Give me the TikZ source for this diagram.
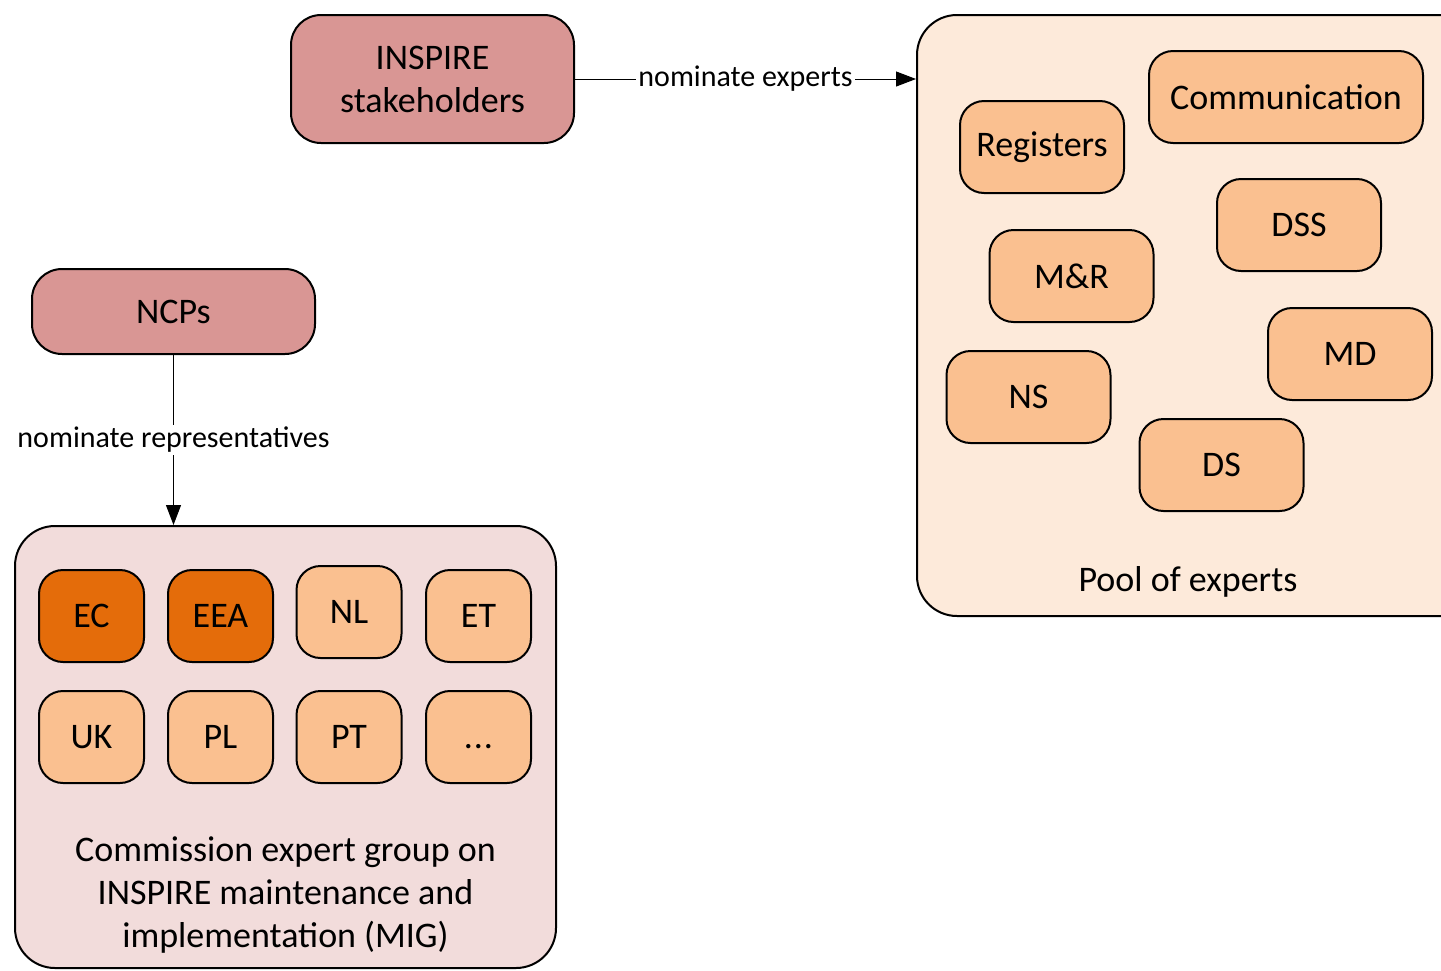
\documentclass[tikz,border=0pt]{standalone}
\usepackage{fontspec}
\setmainfont{Carlito}
\usetikzlibrary{arrows.meta}
\definecolor{stake}{HTML}{D99694}
\definecolor{poolfill}{HTML}{FDEADA}
\definecolor{migfill}{HTML}{F2DCDB}
\definecolor{lightor}{HTML}{FAC090}
\definecolor{darkor}{HTML}{E46C0A}
\begin{document}
\begin{tikzpicture}[x=0.5pt,y=-0.5pt,
  bigfont/.style={font=\fontsize{18}{21.5}\selectfont},
  topbox/.style={draw=black, line width=1pt, fill=stake, rounded corners=15pt,
    inner sep=0pt, align=center, bigfont},
  group/.style={draw=black, line width=1pt, rounded corners=20pt, inner sep=0pt},
  member/.style={draw=black, line width=1pt, fill=lightor, rounded corners=12pt,
    inner sep=0pt, align=center, bigfont, minimum height=46pt},
  ctry/.style={member, minimum width=52.5pt},
  expert/.style={member, minimum width=82pt},
  conn/.style={line width=0.5pt, -{Triangle[length=10pt,width=7.5pt]}},
  lbl/.style={fill=white, inner sep=1pt, font=\fontsize{15}{18}\selectfont}
]
\useasboundingbox (0,0) rectangle (1441,970);

% top-left stakeholders
\node[topbox, minimum width=141.5pt, minimum height=64pt] (stake) at (432.5,79)
  {INSPIRE\\stakeholders};

% pool of experts
\node[group, fill=poolfill, minimum width=282pt, minimum height=300.5pt] (pool) at (1199,315.5) {};
\node[expert, minimum width=137pt] (comm) at (1286,97) {Communication};
\node[expert] (reg) at (1042,147) {Registers};
\node[expert] (dss) at (1299,225) {DSS};
\node[expert] (mr) at (1071.5,276) {M\&R};
\node[expert] (md) at (1350,354) {MD};
\node[expert] (ns) at (1028.5,397) {NS};
\node[expert] (ds) at (1221.5,465) {DS};
\node[bigfont] (pooltxt) at (1188,582) {Pool of experts};

% NCPs
\node[topbox, minimum width=141.5pt, minimum height=42.5pt] (ncp) at (173.5,311.5) {NCPs};

% MIG
\node[group, fill=migfill, minimum width=270.5pt, minimum height=221pt] (mig) at (285.5,747) {};
\node[ctry, fill=darkor] (ec) at (91.5,616) {EC};
\node[ctry, fill=darkor] (eea) at (220.5,616) {EEA};
\node[ctry] (nl) at (349,612) {NL};
\node[ctry] (et) at (478.5,616) {ET};
\node[ctry] (uk) at (91.5,737) {UK};
\node[ctry] (pl) at (220.5,737) {PL};
\node[ctry] (pt) at (349,737) {PT};
\node[ctry] (dots) at (478.5,737) {\vphantom{PT}.\kern0.5pt.\kern0.5pt.};
\node[bigfont, align=center] (migtxt) at (285.5,895)
  {Commission expert group on\\INSPIRE maintenance and\\implementation (MIG)};

% connectors
\draw[conn] (stake.east) -- node[lbl] {nominate experts} (stake.east -| pool.west);
\draw[conn] (ncp.south) -- node[lbl] {nominate representatives} (ncp.south |- mig.north);
\end{tikzpicture}
\end{document}
